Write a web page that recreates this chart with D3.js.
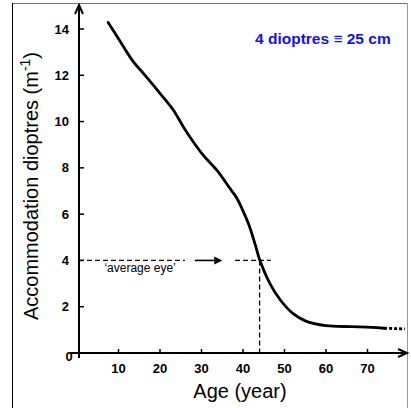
<!DOCTYPE html>
<html>
<head>
<meta charset="utf-8">
<script src="https://cdn.jsdelivr.net/npm/d3@7"></script>
<style>
  body { margin: 0; background: #fff; }
  svg { display: block; }
</style>
</head>
<body>
<div id="chart"></div>
<script>
// accommodation curve
var ages   = [7.5, 10, 13.6, 16, 20, 23.2, 25.6, 28, 30.4, 33.7, 36.9, 38.5, 40.1, 41.5, 43, 44, 46.5, 49, 52, 55, 60, 66, 71, 74];
var values = [14.28, 13.58, 12.58, 12.08, 11.22, 10.5, 9.78, 9.13, 8.55, 7.9, 7.1, 6.7, 6.1, 5.5, 4.65, 4.04, 3.0, 2.29, 1.71, 1.39, 1.18, 1.14, 1.11, 1.07];
var tailAges = [74, 79];
var tailValues = [1.07, 1.04];

var xTicks = [10, 20, 30, 40, 50, 60, 70];
var yTicks = [2, 4, 6, 8, 10, 12, 14];

var eyeAge = 44, eyeValue = 4;
var dashSegs = [[0, 26], [37.6, 46.7]];
var arrowSeg = [28.4, 35];

var W = 411, H = 408;

var svg = d3.select("#chart").append("svg").attr("width", W).attr("height", H);

// frame
svg.append("line").attr("x1", 12.5).attr("x2", 407.5).attr("y1", 3.5).attr("y2", 3.5).attr("stroke", "#777");
svg.append("line").attr("x1", 407.5).attr("x2", 407.5).attr("y1", 3.5).attr("y2", H).attr("stroke", "#999");
svg.append("line").attr("x1", 12.5).attr("x2", 12.5).attr("y1", 3).attr("y2", H).attr("stroke", "#000");

var x = d3.scaleLinear().domain([0, 80]).range([77, 409]);
var y = d3.scaleLinear().domain([0, 14]).range([353, 29]);
var x0 = 79;

var tickFont = "'Liberation Sans Narrow', 'Liberation Sans', Arial, sans-serif";
var titleFont = "'Liberation Sans', Arial, sans-serif";

// axes lines
svg.append("line").attr("x1", x0).attr("x2", x0).attr("y1", 358).attr("y2", 6)
  .attr("stroke", "#000").attr("stroke-width", 2);
svg.append("path").attr("d", "M" + (x0 - 4) + ",14 L" + x0 + ",5 L" + (x0 + 4) + ",14")
  .attr("fill", "none").attr("stroke", "#000").attr("stroke-width", 2);
svg.append("line").attr("x1", 70).attr("x2", 406).attr("y1", y(0)).attr("y2", y(0))
  .attr("stroke", "#000").attr("stroke-width", 2);
svg.append("path").attr("d", "M398," + (y(0) - 4) + " L407," + y(0) + " L398," + (y(0) + 4))
  .attr("fill", "none").attr("stroke", "#000").attr("stroke-width", 2);

// y ticks
svg.selectAll(".yt").data(yTicks).enter().append("line")
  .attr("x1", x0).attr("x2", x0 + 5)
  .attr("y1", function(d) { return y(d); }).attr("y2", function(d) { return y(d); })
  .attr("stroke", "#000").attr("stroke-width", 1.5);
svg.selectAll(".yl").data(yTicks).enter().append("text")
  .attr("x", 69).attr("y", function(d) { return y(d) + 4.5; })
  .attr("text-anchor", "end").attr("font-family", tickFont).attr("font-weight", "bold")
  .attr("font-size", 13).text(function(d) { return d; });

// x ticks
svg.selectAll(".xt").data(xTicks).enter().append("line")
  .attr("x1", function(d) { return x(d); }).attr("x2", function(d) { return x(d); })
  .attr("y1", y(0)).attr("y2", y(0) - 4)
  .attr("stroke", "#000").attr("stroke-width", 1.5);
svg.selectAll(".xl").data(xTicks).enter().append("text")
  .attr("x", function(d) { return x(d); }).attr("y", 373)
  .attr("text-anchor", "middle").attr("font-family", tickFont).attr("font-weight", "bold")
  .attr("font-size", 13).text(function(d) { return d; });
svg.append("text").attr("x", 69).attr("y", 361).attr("text-anchor", "middle")
  .attr("font-family", tickFont).attr("font-weight", "bold").attr("font-size", 13).text("0");

// average eye annotation
dashSegs.forEach(function(s) {
  svg.append("line").attr("x1", x(s[0]) + 2).attr("x2", x(s[1]))
    .attr("y1", y(eyeValue)).attr("y2", y(eyeValue))
    .attr("stroke", "#000").attr("stroke-width", 1.3).attr("stroke-dasharray", "5,3");
});
svg.append("line").attr("x1", x(eyeAge)).attr("x2", x(eyeAge))
  .attr("y1", y(eyeValue)).attr("y2", y(0))
  .attr("stroke", "#000").attr("stroke-width", 1.3).attr("stroke-dasharray", "5,3");
svg.append("line").attr("x1", x(arrowSeg[0])).attr("x2", x(arrowSeg[1]) - 2)
  .attr("y1", y(eyeValue)).attr("y2", y(eyeValue)).attr("stroke", "#000").attr("stroke-width", 1.6);
svg.append("path")
  .attr("d", "M" + (x(arrowSeg[1]) - 8) + "," + (y(eyeValue) - 4) + " L" + x(arrowSeg[1]) + "," + y(eyeValue) +
    " L" + (x(arrowSeg[1]) - 8) + "," + (y(eyeValue) + 4) + " Z")
  .attr("fill", "#000");
svg.append("text").attr("x", x(15.2)).attr("y", y(3.5))
  .attr("text-anchor", "middle").attr("font-family", tickFont).attr("font-size", 12)
  .text("\u2018average eye\u2019");

// curve
var line = d3.line()
  .x(function(d) { return x(d[0]); })
  .y(function(d) { return y(d[1]); })
  .curve(d3.curveCatmullRom.alpha(0.5));

svg.append("path").datum(d3.zip(ages, values)).attr("d", line)
  .attr("fill", "none").attr("stroke", "#000").attr("stroke-width", 2.8).attr("stroke-linecap", "round");
svg.append("path").datum(d3.zip(tailAges, tailValues)).attr("d", line)
  .attr("fill", "none").attr("stroke", "#000").attr("stroke-width", 2.8).attr("stroke-dasharray", "3,2");

// axis titles
svg.append("text").attr("x", 240).attr("y", 398).attr("text-anchor", "middle")
  .attr("font-family", titleFont).attr("font-size", 20)
  .text("Age (year)");

var yt = svg.append("text").attr("transform", "translate(38,186) rotate(-90)")
  .attr("text-anchor", "middle")
  .attr("font-family", titleFont).attr("font-size", 20);
yt.append("tspan").text("Accommodation dioptres (m");
yt.append("tspan").attr("font-size", 14).attr("dy", -8).text("-1");
yt.append("tspan").attr("dy", 8).text(")");

// note
svg.append("text").attr("x", 255).attr("y", 44)
  .attr("font-family", titleFont).attr("font-weight", "bold")
  .attr("font-size", 15.5).attr("fill", "#1010ff")
  .text("4 dioptres \u2261 25 cm");
</script>
</body>
</html>
